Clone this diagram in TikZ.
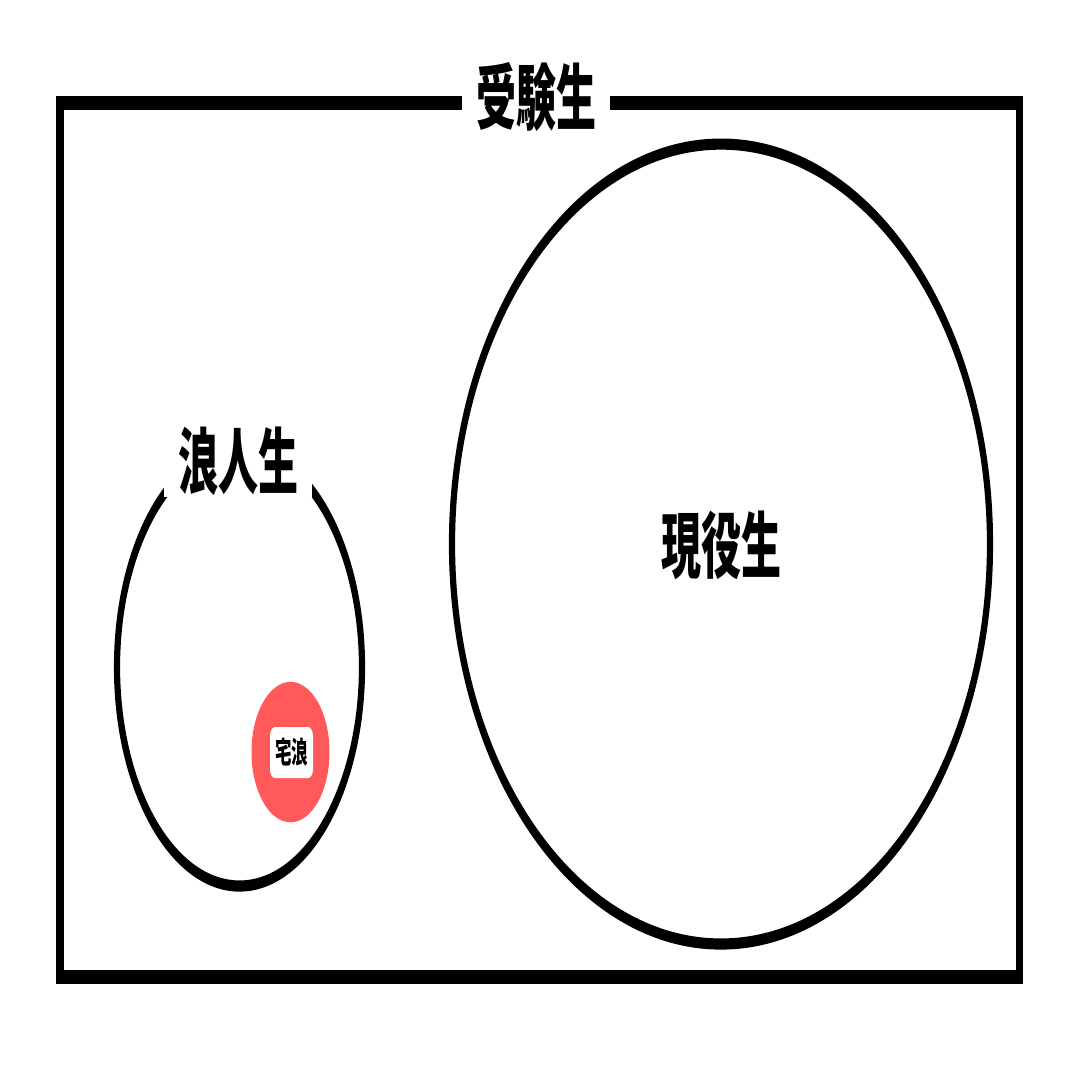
\documentclass[tikz,border=0pt]{standalone}
\usepackage{fontspec}
\newfontfamily\jpfont{Noto Sans CJK JP}
\usetikzlibrary{shapes.geometric}
\definecolor{takuro}{RGB}{255,89,89}
\tikzset{
	setbox/.style={draw,line width=7.5pt,minimum width=959.5pt,minimum height=485.6pt,inner sep=0},
	setring/.style={ellipse,draw,line width=6.2pt,inner sep=0},
	setlabel/.style={fill=white,inner xsep=14pt,inner ysep=1pt,font=\jpfont\bfseries\fontsize{40}{40}\selectfont},
	subset/.style={circle,fill=takuro,minimum size=78pt,inner sep=0},
	sublabel/.style={fill=white,rounded corners=5pt,minimum width=43pt,minimum height=28.3pt,inner sep=0,font=\jpfont\bfseries\fontsize{16.5}{16.5}\selectfont}
}

\begin{document}
\begin{tikzpicture}[x=1pt,y=-1pt]
	\useasboundingbox (0,0) rectangle (1080,1080);
	\begin{scope}[y=-0.5556pt,transform canvas={yscale=1.8}]

	%%all examinees
	\node[setbox] (juken) at (539.75,540) {};
	\node[setlabel] (jukenlabel) at (536,97) {受験生};

	%%current students
	\node[setring,minimum width=538pt,minimum height=444.4pt] (genneki) at (721,544) {};
	\node[setlabel,fill=none] (gennekilabel) at (721,545) {現役生};

	%%ronin
	\node[setring,minimum width=245pt,minimum height=243.3pt] (ronin) at (239.5,667) {};
	\node[setlabel] (roninlabel) at (238,461) {浪人生};

	%%studying at home
	\node[subset] (takuro) at (290.5,752) {};
	\node[sublabel] (takurolabel) at (291.5,752.5) {宅浪};

	\end{scope}
\end{tikzpicture}
\end{document}
